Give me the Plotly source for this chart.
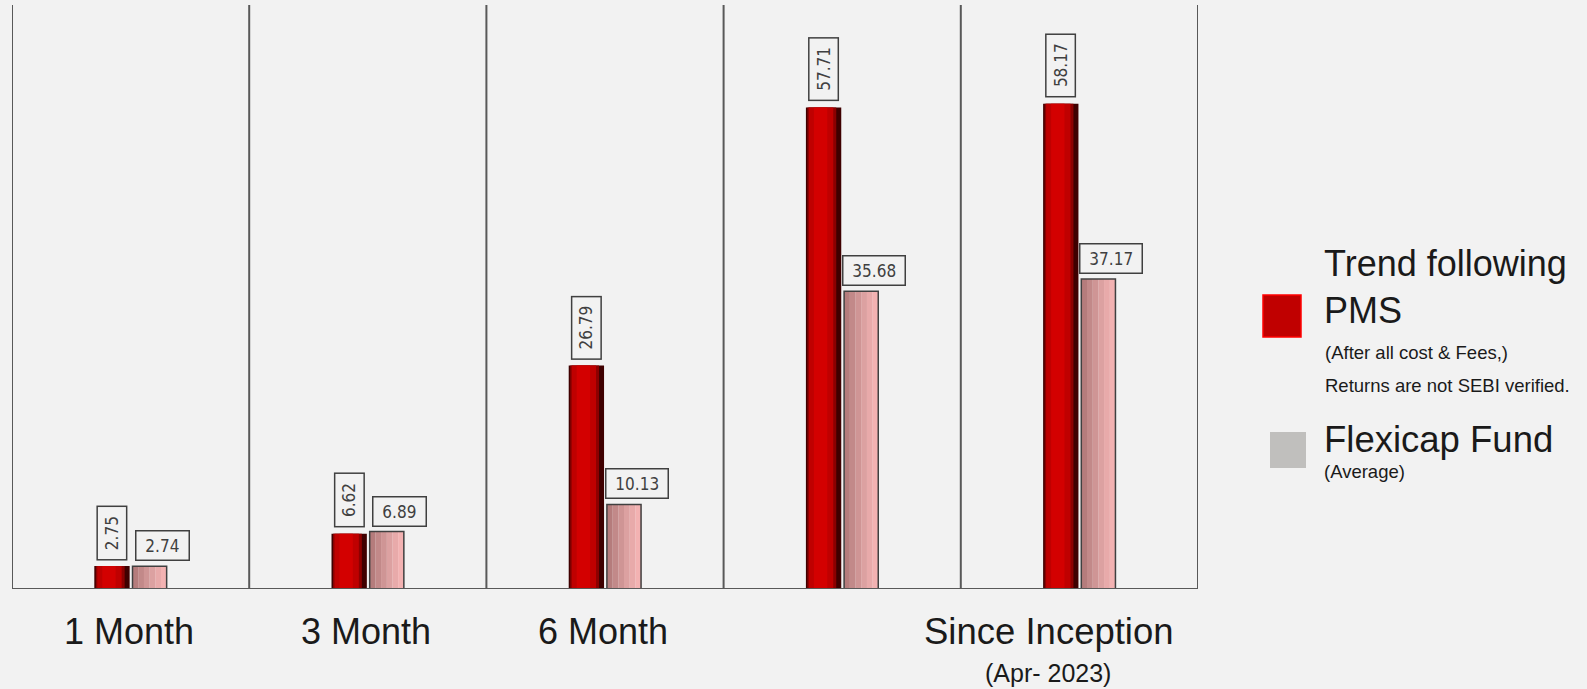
import plotly.graph_objects as go

# ---------------- data ----------------
categories = ["1 Month", "3 Month", "6 Month", "", "Since Inception"]
sub_labels = ["", "", "", "", "(Apr- 2023)"]
pms_values = [2.75, 6.62, 26.79, 57.71, 58.17]
flexi_values = [2.74, 6.89, 10.13, 35.68, 37.17]
series_names = ["Trend following<br>PMS", "Flexicap Fund"]
pms_notes = ["(After all cost & Fees,)", "Returns are not SEBI verified."]
flexi_note = "(Average)"

# ---------------- geometry helpers ----------------
W, H = 1587, 689
ML, MR, MT, MB = 12, 389, 5, 100
PW, PH = W - ML - MR, H - MT - MB
CAT_PX = PW / len(categories)


def u(px):  # pixels -> category units
    return px / CAT_PX


def paper_x(px):
    return (px - ML) / PW


def paper_y(py):
    return (H - MB - py) / PH


xpos = list(range(len(categories)))

RED_L, RED_R = -0.153, -0.004
GRY_L, GRY_R = 0.008, 0.152

fig = go.Figure()

# red "cylinder" bars built from layered fills
red_layers = [
    (0, 0, "#3f0000"),
    (1.5, 5, "#8c0000"),
    (3, 8, "#bf0000"),
    (8, 14, "#d30000"),
]
for li, ri, col in red_layers:
    left = RED_L + u(li)
    width = (RED_R - u(ri)) - left
    fig.add_trace(go.Bar(x=xpos, y=pms_values, offset=left, width=width,
                         marker=dict(color=col, line=dict(width=0)),
                         showlegend=False, hoverinfo="skip"))

# pink gradient bars (left darker -> right lighter)
grey_stops = ["#b57c7c", "#c28989", "#cf9595", "#dca1a1", "#e8aaaa", "#f3b2b2"]
n = len(grey_stops)
sw = (GRY_R - GRY_L) / n
for k, col in enumerate(grey_stops):
    fig.add_trace(go.Bar(x=xpos, y=flexi_values, offset=GRY_L + k * sw, width=sw * 1.02,
                         marker=dict(color=col, line=dict(width=0)),
                         showlegend=False, hoverinfo="skip"))
fig.add_trace(go.Bar(x=xpos, y=flexi_values, offset=GRY_L, width=GRY_R - GRY_L,
                     marker=dict(color="rgba(0,0,0,0)", line=dict(color="#404040", width=1.5)),
                     showlegend=False, hoverinfo="skip"))

# value labels
num_font = dict(family="DejaVu Sans Condensed, DejaVu Sans", size=17, color="#404040")
for i, v in enumerate(pms_values):
    fig.add_annotation(x=i + (RED_L + RED_R) / 2, y=v, xref="x", yref="y",
                       text="\u00a0" + f"{v:.2f}" + "\u00a0", textangle=-90, showarrow=False,
                       yanchor="bottom", xanchor="center", yshift=6,
                       font=num_font, bordercolor="#404040", borderwidth=1.5,
                       borderpad=4, bgcolor="#f2f2f2")
for i, v in enumerate(flexi_values):
    fig.add_annotation(x=i + (GRY_L + GRY_R) / 2, y=v, xref="x", yref="y",
                       text="\u00a0" + f"{v:.2f}" + "\u00a0", showarrow=False,
                       yanchor="bottom", xanchor="center", yshift=5, xshift=13,
                       font=num_font, bordercolor="#404040", borderwidth=1.5,
                       borderpad=4, bgcolor="#f2f2f2")

# category labels
cat_font = dict(family="Liberation Sans, Arial", size=36, color="#1a1a1a")
for i, lab in enumerate(categories):
    if not lab:
        continue
    shift = -30 if sub_labels[i] else -2
    fig.add_annotation(x=i, y=paper_y(631), xref="x", yref="paper", text=lab,
                       showarrow=False, xanchor="center", yanchor="middle",
                       xshift=shift, font=dict(cat_font, size=36.5) if sub_labels[i] else cat_font)
    if sub_labels[i]:
        fig.add_annotation(x=i, y=paper_y(673), xref="x", yref="paper", text=sub_labels[i],
                           showarrow=False, xanchor="center", yanchor="middle",
                           xshift=-31, font=dict(family="Liberation Sans, Arial", size=25, color="#1a1a1a"))

# divider lines
line_col = "#595959"
for k in range(len(categories) + 1):
    fig.add_shape(type="line", xref="x", yref="paper", x0=k - 0.5, x1=k - 0.5, y0=0, y1=1,
                  line=dict(color=line_col, width=2))
fig.add_shape(type="line", xref="x", yref="y", x0=-0.5, x1=len(categories) - 0.5, y0=0, y1=0,
              line=dict(color=line_col, width=2))

# custom legend
leg_font_big = dict(family="Liberation Sans, Arial", size=36, color="#1a1a1a")
leg_font_small = dict(family="Liberation Sans, Arial", size=18.5, color="#1a1a1a")
fig.add_shape(type="rect", xref="paper", yref="paper",
              x0=paper_x(1263), x1=paper_x(1301), y0=paper_y(337), y1=paper_y(295),
              fillcolor="#c00000", line=dict(color="#ff0000", width=1.5))
fig.add_shape(type="rect", xref="paper", yref="paper",
              x0=paper_x(1270), x1=paper_x(1306), y0=paper_y(468), y1=paper_y(432),
              fillcolor="#c0bfbd", line=dict(width=0))
fig.add_annotation(x=paper_x(1322), y=paper_y(287), xref="paper", yref="paper",
                   text=series_names[0], showarrow=False, xanchor="left", yanchor="middle",
                   align="left", font=leg_font_big)
fig.add_annotation(x=paper_x(1323), y=paper_y(353), xref="paper", yref="paper",
                   text=pms_notes[0], showarrow=False, xanchor="left", yanchor="middle",
                   font=leg_font_small)
fig.add_annotation(x=paper_x(1323), y=paper_y(385.5), xref="paper", yref="paper",
                   text=pms_notes[1], showarrow=False, xanchor="left", yanchor="middle",
                   font=leg_font_small)
fig.add_annotation(x=paper_x(1322), y=paper_y(439.5), xref="paper", yref="paper",
                   text=series_names[1], showarrow=False, xanchor="left", yanchor="middle",
                   font=dict(leg_font_big, size=36.5))
fig.add_annotation(x=paper_x(1322), y=paper_y(471.5), xref="paper", yref="paper",
                   text=flexi_note, showarrow=False, xanchor="left", yanchor="middle",
                   font=leg_font_small)

fig.update_layout(
    width=W, height=H, autosize=False,
    margin=dict(l=ML, r=MR, t=MT, b=MB),
    paper_bgcolor="#f2f2f2", plot_bgcolor="#f2f2f2",
    barmode="overlay", showlegend=False,
    xaxis=dict(range=[-0.5, len(categories) - 0.5], showgrid=False, zeroline=False,
               showticklabels=False, showline=False, fixedrange=True),
    yaxis=dict(range=[0, 70], showgrid=False, zeroline=False, showticklabels=False,
               showline=False, fixedrange=True),
)

fig.write_html("out.html", config={"displayModeBar": False})
